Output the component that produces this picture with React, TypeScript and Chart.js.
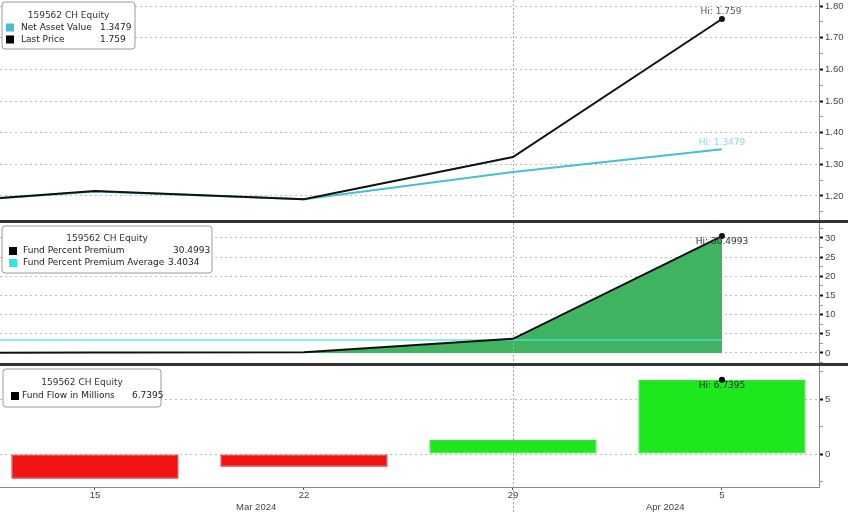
import React, { useEffect, useRef } from "react";
import { Chart, registerables } from "chart.js";

Chart.register(...registerables);

const FONT = '"Liberation Sans", Arial, sans-serif';
const LEGEND_FONT = '"DejaVu Sans", Verdana, sans-serif';

// ---------- shared x (day numbers: Mar 8 .. Apr 5 = 36) ----------
const days = [8, 15, 22, 29, 36];
const xTickDays = [15, 22, 29, 36];
const xTickLabels = ["15", "22", "29", "5"];
const monthDays = [20.4, 34.1];
const monthLabels = ["Mar 2024", "Apr 2024"];
const monthBreakDay = 29;
const X_MIN = 11.82;
const X_MAX = 39.25;

// ---------- top panel ----------
const lastPrice = [1.167, 1.216, 1.19, 1.323, 1.759];
const netAssetValue = [1.167, 1.214, 1.19, 1.276, 1.3479];
const topMajorTicks = [1.2, 1.3, 1.4, 1.5, 1.6, 1.7, 1.8];
const topMinorTicks = [1.15, 1.25, 1.35, 1.45, 1.55, 1.65, 1.75];
const topTitle = "159562 CH Equity";
const topLegendLabels = ["Net Asset Value", "Last Price"];
const topLegendValues = ["1.3479", "1.759"];

// ---------- middle panel ----------
const premium = [0, 0.15, 0.2, 3.7, 30.4993];
const premiumAverage = [3.4034, 3.4034, 3.4034, 3.4034, 3.4034];
const midMajorTicks = [0, 5, 10, 15, 20, 25, 30];
const midMinorTicks = [-2.5, 2.5, 7.5, 12.5, 17.5, 22.5, 27.5, 32.5];
const midTitle = "159562 CH Equity";
const midLegendLabels = ["Fund Percent Premium", "Fund Percent Premium Average"];
const midLegendValues = ["30.4993", "3.4034"];

// ---------- bottom panel ----------
const flowDays = [15, 22, 29, 36];
const fundFlow = [-2.25, -1.15, 1.3, 6.7395];
const botMajorTicks = [0, 5];
const botMinorTicks = [-2.5, 2.5, 7.5];
const botTitle = "159562 CH Equity";
const botLegendLabels = ["Fund Flow in Millions"];
const botLegendValues = ["6.7395"];

// ---------- helpers ----------
const pts = (xs: number[], ys: number[]) => xs.map((x, i) => ({ x, y: ys[i] }));
const lastOnly = (r: number) => (ctx: any) =>
  ctx.dataIndex === ctx.dataset.data.length - 1 ? r : 0;

function yAxis(min: number, max: number, major: number[], minor: number[], decimals: number) {
  const all = [...major, ...minor].sort((a, b) => a - b);
  const isMajor = (v: number) => major.some((m) => Math.abs(m - v) < 1e-9);
  return {
    type: "linear",
    position: "right",
    min,
    max,
    afterBuildTicks: (s: any) => {
      s.ticks = all.map((v) => ({ value: v }));
    },
    afterFit: (s: any) => {
      s.width = 29;
      s.paddingTop = 0;
      s.paddingBottom = 0;
    },
    ticks: {
      autoSkip: false,
      padding: 2,
      color: "#444",
      font: { family: FONT, size: 9.5 },
      callback: (v: any) => (isMajor(Number(v)) ? Number(v).toFixed(decimals) : ""),
    },
    grid: {
      color: (c: any) => (c.tick && isMajor(c.tick.value) ? "#bdbdbd" : "rgba(0,0,0,0)"),
      lineWidth: 1,
      drawTicks: true,
      tickLength: 4,
      tickColor: (c: any) => (c.tick && isMajor(c.tick.value) ? "#111" : "#999"),
      tickWidth: (c: any) => (c.tick && isMajor(c.tick.value) ? 2 : 1),
    },
    border: { display: true, color: "#8a8a8a", width: 1, dash: [2, 3] },
  };
}

const hiddenX = () => ({
  type: "linear",
  min: X_MIN,
  max: X_MAX,
  display: false,
  offset: false,
  grid: { offset: false },
});

const panelPlugin = {
  id: "panelDecor",
  beforeDatasetsDraw(chart: any, _a: any, opts: any) {
    const ctx = chart.ctx;
    const x = chart.scales.x.getPixelForValue(opts.breakDay);
    const area = chart.chartArea;
    ctx.save();
    ctx.strokeStyle = "#a8a8a8";
    ctx.lineWidth = 1;
    ctx.setLineDash([2, 2]);
    ctx.beginPath();
    ctx.moveTo(Math.round(x) + 0.5, area.top);
    ctx.lineTo(Math.round(x) + 0.5, opts.toBottom ? chart.height : area.bottom);
    ctx.stroke();
    ctx.restore();
  },
  afterDatasetsDraw(chart: any, _a: any, opts: any) {
    const ctx = chart.ctx;
    ctx.save();
    ctx.font = `9px ${LEGEND_FONT}`;
    ctx.textAlign = "center";
    ctx.textBaseline = "middle";
    (opts.hi || []).forEach((h: any) => {
      const ds = chart.data.datasets[h.dataset];
      const meta = chart.getDatasetMeta(h.dataset);
      const last = ds.data.length - 1;
      const el = meta.data[last];
      ctx.fillStyle = h.color;
      ctx.fillText("Hi: " + ds.data[last].y, el.x + h.dx, el.y + h.dy);
    });
    ctx.restore();
  },
  afterDraw(chart: any, _a: any, opts: any) {
    const L = opts.legend;
    if (!L) return;
    const ctx = chart.ctx;
    ctx.save();
    ctx.beginPath();
    const r = 3;
    const { x, y, w, h } = L;
    ctx.moveTo(x + r, y);
    ctx.lineTo(x + w - r, y);
    ctx.quadraticCurveTo(x + w, y, x + w, y + r);
    ctx.lineTo(x + w, y + h - r);
    ctx.quadraticCurveTo(x + w, y + h, x + w - r, y + h);
    ctx.lineTo(x + r, y + h);
    ctx.quadraticCurveTo(x, y + h, x, y + h - r);
    ctx.lineTo(x, y + r);
    ctx.quadraticCurveTo(x, y, x + r, y);
    ctx.closePath();
    ctx.fillStyle = "#fff";
    ctx.fill();
    ctx.strokeStyle = "#9a9a9a";
    ctx.lineWidth = 1;
    ctx.stroke();
    ctx.font = `9px ${LEGEND_FONT}`;
    ctx.textBaseline = "middle";
    ctx.fillStyle = "#333";
    ctx.textAlign = "center";
    ctx.fillText(L.title, x + w / 2, L.titleY);
    ctx.textAlign = "left";
    L.items.forEach((it: any) => {
      ctx.fillStyle = it.color;
      ctx.fillRect(L.swatchX, it.y - 4, 8, 8);
      ctx.fillStyle = "#222";
      ctx.fillText(it.label, L.labelX, it.y);
      ctx.fillText(it.value, it.valueX, it.y);
    });
    ctx.restore();
  },
};

const common = {
  responsive: false,
  maintainAspectRatio: false,
  devicePixelRatio: 1,
  animation: false,
  events: [],
  layout: { padding: 0, autoPadding: false },
};

function topConfig(): any {
  return {
    type: "line",
    data: {
      datasets: [
        {
          label: "Last Price",
          data: pts(days, lastPrice),
          borderColor: "#111",
          backgroundColor: "#111",
          borderWidth: 2,
          pointRadius: lastOnly(3),
          pointBorderWidth: 0,
          tension: 0,
        },
        {
          label: "Net Asset Value",
          data: pts(days, netAssetValue),
          borderColor: "#45bfd1",
          backgroundColor: "#45bfd1",
          borderWidth: 2,
          pointRadius: 0,
          tension: 0,
        },
      ],
    },
    options: {
      ...common,
      scales: { x: hiddenX(), y: yAxis(1.1242, 1.819, topMajorTicks, topMinorTicks, 2) },
      plugins: {
        legend: { display: false },
        tooltip: { enabled: false },
        panelDecor: {
          breakDay: monthBreakDay,
          toBottom: false,
          hi: [
            { dataset: 0, color: "#555", dx: -1, dy: -7 },
            { dataset: 1, color: "#8fd6e4", dx: 0, dy: -7 },
          ],
          legend: {
            x: 2, y: 2, w: 133, h: 47, titleY: 15.5, swatchX: 6, labelX: 21,
            title: topTitle,
            items: [
              { label: topLegendLabels[0], value: topLegendValues[0], color: "#45bfd1", y: 27.5, valueX: 100 },
              { label: topLegendLabels[1], value: topLegendValues[1], color: "#000", y: 39.5, valueX: 100 },
            ],
          },
        },
      },
    },
    plugins: [panelPlugin],
  };
}

function midConfig(): any {
  return {
    type: "line",
    data: {
      datasets: [
        {
          label: "Fund Percent Premium",
          data: pts(days, premium),
          borderColor: "#111",
          backgroundColor: "#3fb35f",
          pointBackgroundColor: "#111",
          fill: "origin",
          borderWidth: 2,
          pointRadius: lastOnly(3),
          pointBorderWidth: 0,
          tension: 0,
        },
        {
          label: "Fund Percent Premium Average",
          data: pts(days, premiumAverage),
          borderColor: "rgba(80,222,222,0.85)",
          borderWidth: 1.5,
          pointRadius: 0,
          fill: false,
          tension: 0,
        },
      ],
    },
    options: {
      ...common,
      scales: { x: hiddenX(), y: yAxis(-2.61, 33.91, midMajorTicks, midMinorTicks, 0) },
      plugins: {
        legend: { display: false },
        tooltip: { enabled: false },
        filler: { drawTime: "beforeDatasetsDraw" },
        panelDecor: {
          breakDay: monthBreakDay,
          toBottom: false,
          hi: [{ dataset: 0, color: "#333", dx: 0, dy: 6 }],
          legend: {
            x: 2, y: 3, w: 210, h: 47, titleY: 16, swatchX: 9, labelX: 23,
            title: midTitle,
            items: [
              { label: midLegendLabels[0], value: midLegendValues[0], color: "#000", y: 28, valueX: 173 },
              { label: midLegendLabels[1], value: midLegendValues[1], color: "#2ee6e6", y: 40, valueX: 168 },
            ],
          },
        },
      },
    },
    plugins: [panelPlugin],
  };
}

function botConfig(): any {
  const isNeg = (ctx: any) => ctx.raw && ctx.raw.y < 0;
  return {
    type: "bar",
    data: {
      datasets: [
        {
          type: "line",
          label: "Hi marker",
          data: pts(flowDays, fundFlow),
          showLine: false,
          pointRadius: lastOnly(3),
          pointBackgroundColor: "#000",
          pointBorderWidth: 0,
          borderColor: "#000",
        },
        {
          type: "bar",
          label: "Fund Flow in Millions",
          data: pts(flowDays, fundFlow),
          backgroundColor: (ctx: any) => (isNeg(ctx) ? "#f01414" : "#1de81d"),
          borderColor: (ctx: any) => (isNeg(ctx) ? "#c41010" : "#1ccc1c"),
          borderWidth: 1,
          borderSkipped: false,
          categoryPercentage: 0.8,
          barPercentage: 1.0,
        },
      ],
    },
    options: {
      ...common,
      scales: {
        x: {
          type: "linear",
          position: "bottom",
          weight: 1,
          min: X_MIN,
          max: X_MAX,
          offset: false,
          afterBuildTicks: (s: any) => {
            s.ticks = xTickDays.map((v) => ({ value: v }));
          },
          afterFit: (s: any) => {
            s.height = 14;
            s.paddingLeft = 0;
            s.paddingRight = 0;
          },
          ticks: {
            autoSkip: false,
            maxRotation: 0,
            padding: 0,
            color: "#444",
            font: { family: FONT, size: 9.5 },
            callback: (v: any) => xTickLabels[xTickDays.indexOf(Number(v))] ?? "",
          },
          grid: {
            offset: false,
            drawOnChartArea: false,
            drawTicks: true,
            tickLength: 3,
            tickColor: "#555",
          },
          border: { display: true, color: "#8a8a8a", width: 1 },
        },
        xm: {
          type: "linear",
          position: "bottom",
          weight: 2,
          min: X_MIN,
          max: X_MAX,
          offset: false,
          afterBuildTicks: (s: any) => {
            s.ticks = monthDays.map((v) => ({ value: v }));
          },
          afterFit: (s: any) => {
            s.height = 12;
            s.paddingLeft = 0;
            s.paddingRight = 0;
          },
          ticks: {
            autoSkip: false,
            maxRotation: 0,
            padding: 1,
            color: "#444",
            font: { family: FONT, size: 9.5 },
            callback: (v: any) => monthLabels[monthDays.indexOf(Number(v))] ?? "",
          },
          grid: { display: false, drawTicks: false, offset: false },
          border: { display: false },
        },
        y: yAxis(-3.0, 8.0, botMajorTicks, botMinorTicks, 0),
      },
      plugins: {
        legend: { display: false },
        tooltip: { enabled: false },
        panelDecor: {
          breakDay: monthBreakDay,
          toBottom: true,
          hi: [{ dataset: 0, color: "#2a2a2a", dx: 0, dy: 6 }],
          legend: {
            x: 3, y: 3, w: 158, h: 38, titleY: 17, swatchX: 11, labelX: 22,
            title: botTitle,
            items: [
              { label: botLegendLabels[0], value: botLegendValues[0], color: "#000", y: 30, valueX: 132 },
            ],
          },
        },
      },
    },
    plugins: [panelPlugin],
  };
}

export default function App() {
  const topRef = useRef<HTMLCanvasElement>(null);
  const midRef = useRef<HTMLCanvasElement>(null);
  const botRef = useRef<HTMLCanvasElement>(null);

  useEffect(() => {
    document.body.style.margin = "0";
    const charts = [
      new Chart(topRef.current as HTMLCanvasElement, topConfig()),
      new Chart(midRef.current as HTMLCanvasElement, midConfig()),
      new Chart(botRef.current as HTMLCanvasElement, botConfig()),
    ];
    return () => charts.forEach((c) => c.destroy());
  }, []);

  const abs = (top: number, height: number): React.CSSProperties => ({
    position: "absolute",
    left: 0,
    top,
    width: 848,
    height,
    display: "block",
  });

  return (
    <div style={{ position: "absolute", left: 0, top: 0, width: 848, height: 513, background: "#fff", overflow: "hidden" }}>
      <canvas ref={topRef} width={848} height={220} style={abs(0, 220)} />
      <div style={{ ...abs(220, 3), background: "#343434" }} />
      <canvas ref={midRef} width={848} height={140} style={abs(223, 140)} />
      <div style={{ ...abs(363, 3), background: "#343434" }} />
      <canvas ref={botRef} width={848} height={147} style={abs(366, 147)} />
    </div>
  );
}
